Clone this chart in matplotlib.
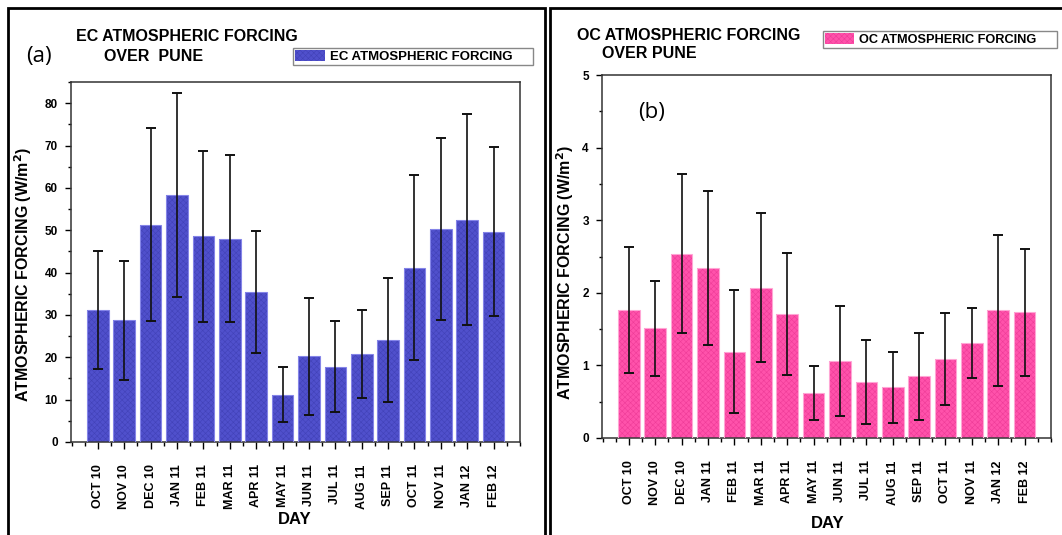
import numpy as np
import matplotlib
matplotlib.use("Agg")
import matplotlib.pyplot as plt
from matplotlib.patches import Rectangle
from matplotlib.ticker import MultipleLocator

plt.rcParams['font.family'] = ['Liberation Sans', 'DejaVu Sans']
plt.rcParams['hatch.linewidth'] = 0.4

months = ["OCT 10", "NOV 10", "DEC 10", "JAN 11", "FEB 11", "MAR 11", "APR 11", "MAY 11",
          "JUN 11", "JUL 11", "AUG 11", "SEP 11", "OCT 11", "NOV 11", "JAN 12", "FEB 12"]

# EC forcing (W/m2) and its spread
ec_vals = [31.2, 28.7, 51.3, 58.3, 48.6, 48.0, 35.5, 11.2,
           20.2, 17.8, 20.8, 24.1, 41.2, 50.3, 52.5, 49.7]
ec_err = [13.9, 14.0, 22.8, 24.0, 20.2, 19.7, 14.4, 6.4,
          13.8, 10.7, 10.3, 14.7, 21.9, 21.5, 24.9, 20.0]

# OC forcing (W/m2) and its spread
oc_vals = [1.76, 1.51, 2.54, 2.34, 1.19, 2.07, 1.71, 0.62,
           1.06, 0.77, 0.70, 0.85, 1.09, 1.31, 1.76, 1.73]
oc_err = [0.87, 0.65, 1.09, 1.06, 0.85, 1.03, 0.84, 0.37,
          0.76, 0.58, 0.49, 0.60, 0.63, 0.48, 1.04, 0.87]

W, H = 1062, 535
fig = plt.figure(figsize=(W / 100, H / 100), dpi=100)


def px_axes(l, t, r, b):
    return fig.add_axes([l / W, 1 - b / H, (r - l) / W, (b - t) / H])


def draw_panel(ax, vals, err, face, hatchc, edge, ymax, major, minor, label):
    x = np.arange(len(months))
    bars = ax.bar(x, vals, width=0.82, color=face, edgecolor=hatchc, hatch='xxxxxx',
                  linewidth=0, label=label, zorder=2)
    for b in bars:
        # light outline on top of hatch
        ax.add_patch(Rectangle(b.get_xy(), b.get_width(), b.get_height(), fill=False,
                               edgecolor=edge, linewidth=0.8, zorder=3))
    ax.errorbar(x, vals, yerr=err, fmt='none', ecolor='#111111', elinewidth=1.2,
                capsize=3.3, capthick=1.4, zorder=4)
    ax.set_xlim(-1.02, 16.0)
    ax.set_ylim(0, ymax)
    ax.set_xticks(x)
    ax.set_xticklabels(months, rotation=90, fontsize=9, fontweight='bold')
    ax.xaxis.set_minor_locator(MultipleLocator(0.5))
    ax.yaxis.set_major_locator(MultipleLocator(major))
    ax.yaxis.set_minor_locator(MultipleLocator(minor))
    for lab in ax.get_yticklabels():
        lab.set_fontweight('bold')
        lab.set_fontsize(8.5)
    ax.tick_params(axis='x', which='major', direction='out', length=5, width=1, pad=11)
    ax.tick_params(axis='x', which='minor', direction='out', length=3, width=1)
    ax.tick_params(axis='y', which='major', direction='out', length=4.5, width=1, pad=5)
    ax.tick_params(axis='y', which='minor', direction='out', length=2.5, width=1)
    for s in ax.spines.values():
        s.set_color('#333333')
        s.set_linewidth(1.1)
    ax.set_ylabel("ATMOSPHERIC FORCING (W/m$^\\mathbf{2}$)", fontsize=11.5, fontweight='bold')
    ax.set_xlabel("DAY", fontsize=12, fontweight='bold')


# (a) EC panel
ax1 = px_axes(71, 82, 520, 442)
draw_panel(ax1, ec_vals, ec_err, '#5050cc', '#4242b8', '#8585e8', 85, 10, 5,
           "EC ATMOSPHERIC FORCING")
ax1.yaxis.set_label_coords(-0.082, 0.465)
ax1.xaxis.set_label_coords(0.499, -0.195)

# (b) OC panel
ax2 = px_axes(602, 75, 1051, 438)
draw_panel(ax2, oc_vals, oc_err, '#ff52ab', '#ef3c98', '#ffa6d5', 5, 1, 0.5,
           "OC ATMOSPHERIC FORCING")
ax2.yaxis.set_label_coords(-0.058, 0.457)
ax2.xaxis.set_label_coords(0.503, -0.215)

# titles
fig.text(76 / W, 1 - 36.5 / H, "EC ATMOSPHERIC FORCING", fontsize=11.5, fontweight='bold',
         ha='left', va='center')
fig.text(104 / W, 1 - 57 / H, "OVER  PUNE", fontsize=11.5, fontweight='bold',
         ha='left', va='center')
fig.text(577 / W, 1 - 35 / H, "OC ATMOSPHERIC FORCING", fontsize=11.5, fontweight='bold',
         ha='left', va='center')
fig.text(602 / W, 1 - 54 / H, "OVER PUNE", fontsize=11.5, fontweight='bold',
         ha='left', va='center')

fig.text(26 / W, 1 - 57 / H, "(a)", fontsize=16, family=['Open Sans', 'DejaVu Sans'],
         ha='left', va='center')
fig.text(638 / W, 1 - 112 / H, "(b)", fontsize=16, family=['Open Sans', 'DejaVu Sans'],
         ha='left', va='center')

# legends, stretched to the box widths seen in the picture
for ax, (lx, ly, rx, by), fs in ((ax1, (293, 48, 533, 66), 9.5), (ax2, (823, 31, 1057, 48), 9.2)):
    leg = ax.legend(loc='upper left', mode='expand',
                    bbox_to_anchor=(lx / W, 1 - by / H, (rx - lx) / W, (by - ly) / H),
                    bbox_transform=fig.transFigure,
                    prop={'weight': 'bold', 'size': fs}, frameon=True, fancybox=False,
                    edgecolor='#888888', framealpha=1, borderpad=0.15, borderaxespad=0,
                    handlelength=2.3, handleheight=0.9, handletextpad=0.35)
    leg.get_frame().set_linewidth(1.0)

# panel frames
fig.patches.append(Rectangle((8 / W, -0.02), (545 - 8) / W, 1.02 - 8 / H, fill=False,
                             edgecolor='black', linewidth=2, transform=fig.transFigure,
                             figure=fig))
fig.patches.append(Rectangle((550 / W, -0.02), 0.6, 1.02 - 8 / H, fill=False,
                             edgecolor='black', linewidth=2, transform=fig.transFigure,
                             figure=fig))

fig.savefig("out.png", dpi=100)
